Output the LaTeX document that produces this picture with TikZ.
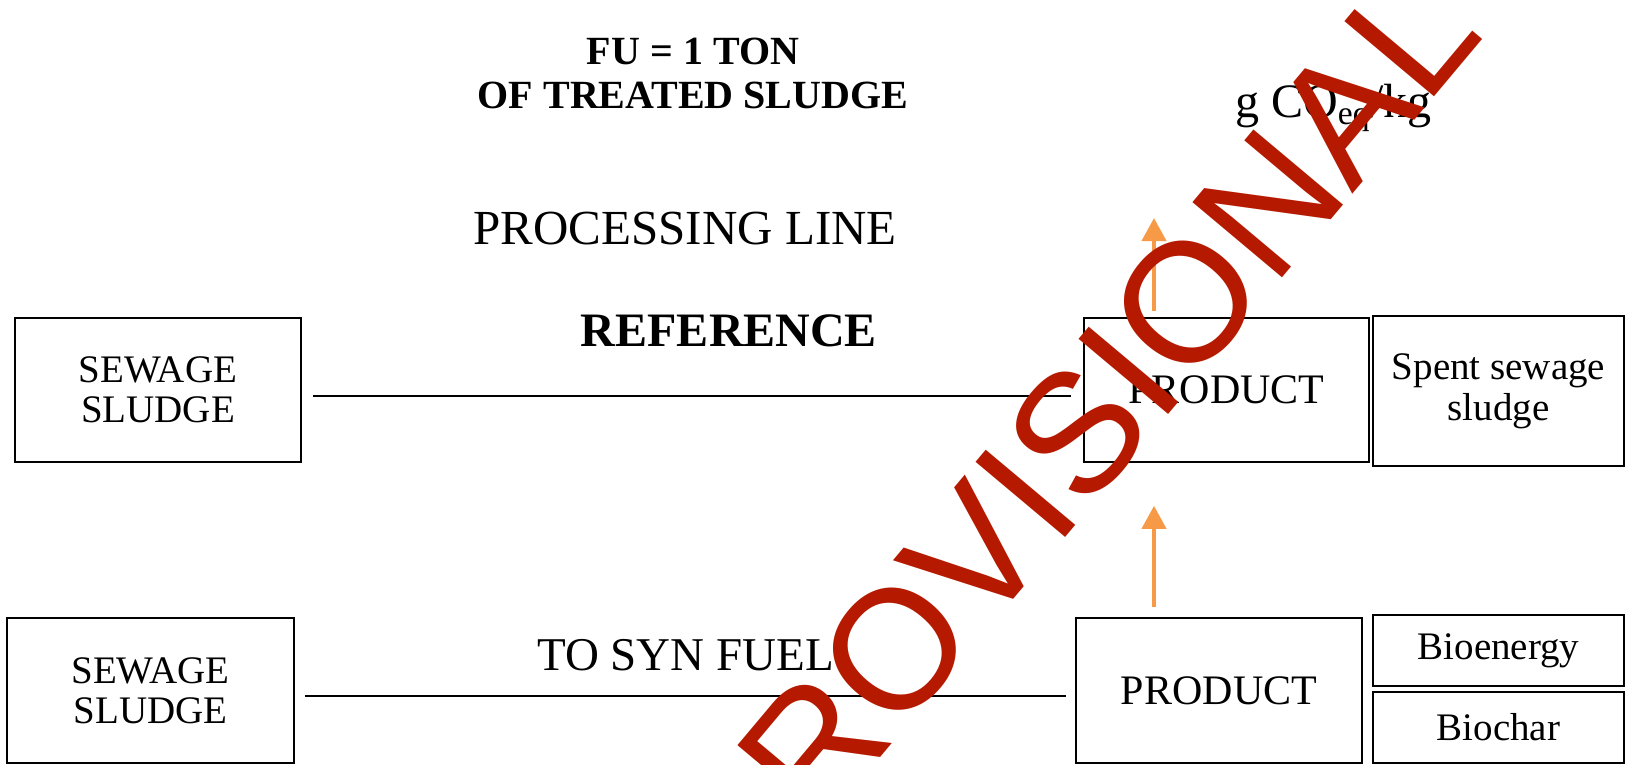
\documentclass[tikz,border=0pt]{standalone}
\usepackage{fontspec}
\setmainfont{Liberation Serif}
\newfontfamily\stampfont{Liberation Sans}
\usetikzlibrary{arrows.meta}
\definecolor{stampred}{RGB}{181,26,0}
\definecolor{flow}{RGB}{247,154,72}
\begin{document}
\begin{tikzpicture}[x=1pt, y=-1pt,
  box/.style={draw, line width=1.6pt, inner sep=0pt, align=center,
    font=\fontsize{39}{40}\selectfont},
  prodbox/.style={box, font=\fontsize{42}{44}\selectfont},
  label/.style={inner sep=0pt},
  link/.style={line width=2.2pt},
  flowarrow/.style={draw=flow, line width=4pt, -{Triangle[width=24pt,length=23pt]}}]
\useasboundingbox (0,0) rectangle (1629,764);
\clip (0,0) rectangle (1629,764);

% headings
\node[label, font=\bfseries\fontsize{40}{44}\selectfont, anchor=base] (fu1) at (693,64) {FU = 1 TON};
\node[label, font=\bfseries\fontsize{40}{44}\selectfont, anchor=base] (fu2) at (693,108) {OF TREATED SLUDGE};
\node[label, font=\fontsize{48}{50}\selectfont, anchor=base west] (unit) at (1235,117) {g CO\textsubscript{eq}/kg};
\node[label, font=\fontsize{49}{50}\selectfont, anchor=base] (procline) at (685,244) {PROCESSING LINE};
\node[label, font=\bfseries\fontsize{48}{50}\selectfont, anchor=base] (ref) at (729,346) {REFERENCE};
\node[label, font=\fontsize{47}{50}\selectfont, anchor=base west] (synfuel) at (537,670) {TO SYN FUEL};

% reference line
\node[box, minimum width=286pt, minimum height=144pt] (ss1) at (158,390) {SEWAGE\\SLUDGE};
\node[prodbox, minimum width=285pt, minimum height=144pt] (p1) at (1226.5,390) {PRODUCT};
\node[box, minimum width=251pt, minimum height=150pt, font=\fontsize{39}{41}\selectfont] (spent) at (1498.5,391) {Spent sewage\\sludge};

% syn fuel line
\node[box, minimum width=287pt, minimum height=145pt] (ss2) at (150.5,690.5) {SEWAGE\\SLUDGE};
\node[prodbox, minimum width=286pt, minimum height=145pt] (p2) at (1219,690.5) {PRODUCT};
\node[box, minimum width=251pt, minimum height=71pt] (bioen) at (1498.5,650.5) {Bioenergy};
\node[box, minimum width=251pt, minimum height=71pt] (biochar) at (1498.5,727.5) {Biochar};

% connectors
\draw[link, shorten <=11pt, shorten >=12pt] ([yshift=-6pt]ss1.east) -- ([yshift=-6pt]p1.west);
\draw[link, shorten <=10pt, shorten >=9pt] ([yshift=-5.5pt]ss2.east) -- ([yshift=-5.5pt]p2.west);

\coordinate (up1) at (1154,218);
\draw[flowarrow, shorten <=6pt] (p1.north -| up1) -- (up1);
\draw[flowarrow, shorten <=10pt, shorten >=43pt] (p2.north -| up1) -- (p1.south -| up1);

% stamp across the sheet
\node[inner sep=0pt, font=\stampfont\fontsize{170}{170}\selectfont, text=stampred,
  rotate=50, anchor=base] (stamp) at (1116,477) {PROVISIONAL};
\end{tikzpicture}
\end{document}
